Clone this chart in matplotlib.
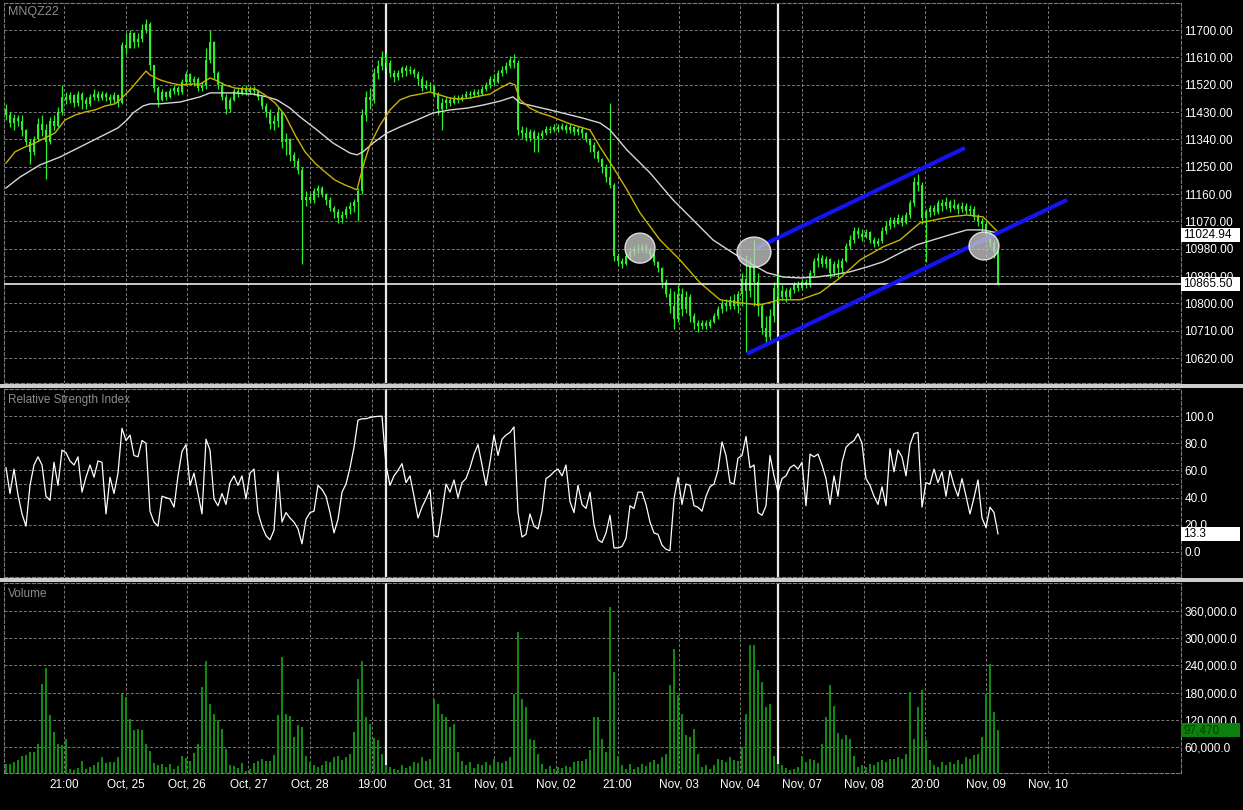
import numpy as np
import matplotlib.pyplot as plt
from matplotlib.patches import Rectangle, Ellipse
from matplotlib.transforms import blended_transform_factory

plt.rcParams['font.family'] = ['Liberation Sans', 'DejaVu Sans']

symbol = 'MNQZ22'
first_open = 11440

closes = [
    11420, 11395, 11410, 11400, 11370, 11330, 11300, 11340, 11390, 11370,
    11330, 11400, 11385, 11430, 11480, 11470, 11485, 11460, 11490, 11470,
    11455, 11480, 11490, 11475, 11490, 11480, 11470, 11485, 11460, 11650,
    11640, 11690, 11660, 11670, 11700, 11720, 11585, 11510, 11470, 11495,
    11480, 11500, 11510, 11495, 11530, 11555, 11530, 11540, 11510, 11520,
    11600, 11660, 11560, 11520, 11480, 11440, 11470, 11500, 11490, 11505,
    11495, 11505, 11500, 11480, 11450, 11430, 11390, 11400, 11430, 11330,
    11340, 11290, 11270, 11240, 11140, 11150, 11140, 11170, 11180, 11160,
    11140, 11115, 11100, 11080, 11090, 11110, 11120, 11135, 11170, 11420,
    11480, 11470, 11560, 11580, 11610, 11590, 11560, 11545, 11560, 11575,
    11565, 11570, 11555, 11540, 11510, 11520, 11515, 11490, 11440, 11460,
    11470, 11460, 11475, 11470, 11480, 11490, 11485, 11495, 11490, 11505,
    11520, 11540, 11530, 11560, 11570, 11580, 11600, 11590, 11370, 11360,
    11345, 11365, 11340, 11350, 11360, 11375, 11370, 11380, 11375, 11385,
    11370, 11380, 11365, 11375, 11360, 11340, 11320, 11300, 11275, 11250,
    11215, 11190, 10955, 10940, 10930, 10955, 10970, 10980, 10975, 10985,
    10975, 10960, 10935, 10915, 10870, 10830, 10790, 10750, 10830, 10780,
    10820, 10760, 10735, 10725, 10735, 10725, 10740, 10760, 10780, 10800,
    10790, 10810, 10790, 10830, 10880, 10840, 10920, 10870, 10790, 10720,
    10690, 10760, 10850, 10820, 10840, 10820, 10845, 10860, 10850, 10870,
    10860, 10900, 10940, 10950, 10930, 10945, 10900, 10930, 10915, 10940,
    10990, 11010, 11040, 11030, 11020, 11035, 11010, 10995, 11005, 11040,
    11055, 11075, 11060, 11080, 11065, 11090, 11130, 11200, 11190, 11080,
    11100, 11115, 11100, 11130, 11120, 11135, 11115, 11125, 11110, 11120,
    11105, 11110, 11085, 11070, 11060, 11030, 11000, 10970, 10865.5,
]

highs = [
    11455, 11430, 11425, 11420, 11420, 11375, 11340, 11350, 11410, 11420,
    11390, 11415, 11420, 11445, 11520, 11495, 11495, 11490, 11500, 11495,
    11480, 11490, 11505, 11500, 11500, 11495, 11490, 11495, 11490, 11660,
    11690, 11700, 11695, 11690, 11720, 11735, 11725, 11580, 11515, 11505,
    11500, 11510, 11520, 11515, 11540, 11565, 11560, 11550, 11545, 11530,
    11640, 11700, 11665, 11565, 11530, 11490, 11480, 11510, 11510, 11515,
    11520, 11515, 11515, 11505, 11485, 11460, 11440, 11420, 11445, 11430,
    11360, 11345, 11300, 11280, 11250, 11170, 11165, 11180, 11190, 11185,
    11165, 11150, 11120, 11110, 11105, 11120, 11135, 11145, 11180, 11440,
    11500, 11510, 11575, 11600, 11630, 11625, 11600, 11570, 11570, 11580,
    11585, 11580, 11575, 11565, 11550, 11535, 11530, 11520, 11495, 11475,
    11480, 11480, 11485, 11485, 11490, 11500, 11500, 11505, 11505, 11515,
    11530, 11550, 11555, 11570, 11580, 11595, 11615, 11620, 11600, 11385,
    11380, 11375, 11370, 11365, 11370, 11385, 11385, 11390, 11390, 11395,
    11390, 11390, 11385, 11385, 11380, 11365, 11345, 11330, 11305, 11280,
    11260, 11460, 11195, 10965, 10950, 10965, 10985, 10990, 10995, 10995,
    10995, 10985, 10965, 10940, 10920, 10880, 10850, 10840, 10860, 10850,
    10840, 10830, 10770, 10745, 10745, 10745, 10750, 10770, 10790, 10810,
    10815, 10825, 10830, 10840, 10900, 10960, 10950, 11010, 10900, 10800,
    10760, 10780, 10870, 10900, 10860, 10850, 10855, 10870, 10875, 10880,
    10880, 10910, 10950, 10965, 10960, 10955, 10950, 10940, 10945, 10950,
    11000, 11025, 11050, 11050, 11045, 11045, 11040, 11020, 11015, 11050,
    11070, 11085, 11085, 11095, 11090, 11100, 11140, 11215, 11225, 11200,
    11110, 11125, 11125, 11140, 11145, 11150, 11140, 11145, 11130, 11135,
    11130, 11125, 11120, 11095, 11080, 11070, 11040, 11010, 10975,
]

lows = [
    11405, 11380, 11370, 11385, 11350, 11320, 11260, 11290, 11335, 11350,
    11210, 11325, 11370, 11380, 11420, 11455, 11460, 11445, 11450, 11440,
    11440, 11450, 11470, 11465, 11470, 11465, 11455, 11460, 11445, 11455,
    11620, 11640, 11640, 11645, 11660, 11690, 11570, 11495, 11445, 11465,
    11470, 11475, 11490, 11485, 11490, 11520, 11520, 11515, 11500, 11500,
    11505, 11590, 11540, 11505, 11470, 11425, 11430, 11465, 11480, 11485,
    11485, 11490, 11485, 11470, 11440, 11415, 11375, 11370, 11380, 11310,
    11290, 11270, 11250, 11225, 10930, 11120, 11130, 11130, 11150, 11150,
    11125, 11105, 11080, 11065, 11065, 11080, 11095, 11100, 11070, 11160,
    11400, 11440, 11460, 11540, 11570, 11575, 11545, 11530, 11535, 11545,
    11550, 11555, 11545, 11520, 11500, 11505, 11500, 11480, 11420, 11370,
    11440, 11450, 11455, 11460, 11465, 11475, 11475, 11480, 11480, 11485,
    11500, 11510, 11520, 11525, 11550, 11560, 11575, 11575, 11355, 11340,
    11335, 11335, 11300, 11300, 11340, 11355, 11360, 11365, 11365, 11370,
    11360, 11360, 11355, 11355, 11345, 11330, 11300, 11280, 11265, 11230,
    11200, 11180, 10940, 10925, 10915, 10925, 10950, 10960, 10965, 10970,
    10965, 10950, 10925, 10905, 10850, 10820, 10770, 10715, 10740, 10760,
    10770, 10740, 10715, 10705, 10715, 10715, 10720, 10735, 10750, 10770,
    10775, 10780, 10780, 10770, 10790, 10640, 10820, 10790, 10760, 10700,
    10670, 10680, 10740, 10800, 10810, 10805, 10815, 10835, 10840, 10845,
    10850, 10855, 10890, 10920, 10920, 10915, 10885, 10890, 10885, 10900,
    10935, 10980, 11000, 11015, 11005, 11015, 11000, 10985, 10990, 11000,
    11030, 11045, 11050, 11060, 11055, 11060, 11080, 11120, 11170, 11060,
    10935, 11085, 11090, 11095, 11105, 11110, 11100, 11110, 11095, 11100,
    11095, 11090, 11075, 11055, 11035, 11015, 10985, 10950, 10860,
]

# volume in thousands of contracts
volume_k = [
    23, 22, 27, 31, 40, 42, 48, 50, 67, 199,
    234, 130, 93, 67, 64, 78, 12, 10, 14, 28,
    12, 16, 20, 26, 38, 25, 27, 26, 38, 176,
    170, 122, 97, 100, 97, 67, 52, 25, 20, 23,
    15, 22, 12, 18, 40, 35, 30, 47, 67, 192,
    249, 154, 133, 119, 100, 55, 20, 18, 14, 25,
    8, 12, 24, 30, 34, 28, 30, 42, 130, 259,
    132, 128, 82, 108, 105, 40, 26, 20, 16, 20,
    30, 27, 38, 40, 31, 38, 44, 93, 210, 250,
    126, 111, 80, 75, 45, 20, 16, 12, 9, 20,
    14, 18, 27, 24, 38, 30, 34, 166, 155, 132,
    126, 104, 111, 50, 30, 20, 27, 14, 22, 20,
    27, 20, 34, 27, 24, 30, 38, 177, 313, 166,
    148, 78, 75, 45, 22, 12, 18, 12, 16, 14,
    18, 16, 27, 30, 30, 34, 53, 127, 127, 78,
    49, 368, 225, 40, 20, 12, 23, 12, 16, 23,
    18, 27, 31, 22, 38, 45, 196, 276, 174, 133,
    86, 83, 100, 45, 16, 20, 12, 20, 34, 31,
    27, 38, 31, 30, 60, 133, 286, 284, 229, 204,
    148, 155, 40, 23, 20, 14, 10, 12, 16, 40,
    27, 34, 31, 25, 66, 126, 196, 150, 90, 78,
    86, 78, 40, 16, 20, 16, 23, 20, 27, 31,
    27, 34, 34, 38, 34, 45, 181, 78, 148, 185,
    75, 31, 20, 16, 27, 20, 27, 23, 31, 23,
    38, 34, 42, 45, 82, 177, 242, 137, 97.47,
]

rsi = [
    62, 43, 61, 42, 28, 19, 49, 64, 70, 64,
    41, 38, 66, 49, 75, 73, 67, 64, 70, 44,
    55, 64, 55, 67, 66, 28, 55, 43, 58, 91,
    82, 86, 71, 70, 82, 80, 30, 22, 19, 41,
    40, 39, 33, 56, 74, 79, 49, 58, 43, 28,
    83, 75, 39, 34, 43, 35, 51, 56, 49, 56,
    39, 58, 61, 29, 19, 12, 9, 16, 59, 22,
    29, 25, 22, 17, 6, 24, 29, 30, 49, 46,
    41, 29, 14, 24, 44, 50, 62, 77, 97, 98,
    98, 99, 99.5, 99.8, 99.9, 64, 49, 56, 60, 65,
    51, 56, 41, 25, 33, 39, 46, 12, 11, 29,
    50, 44, 53, 40, 51, 54, 62, 72, 79, 64,
    49, 66, 86, 71, 83, 86, 88, 92, 29, 11,
    13, 28, 19, 17, 30, 54, 56, 59, 61, 56,
    64, 37, 29, 49, 35, 32, 44, 20, 9, 7,
    14, 27, 3, 3, 4, 10, 34, 32, 44, 44,
    35, 22, 14, 13, 5, 2, 1, 39, 55, 35,
    50, 49, 34, 33, 30, 41, 48, 50, 60, 81,
    71, 51, 50, 69, 71, 85, 62, 64, 29, 27,
    34, 71, 56, 44, 54, 56, 62, 64, 61, 66,
    34, 72, 70, 72, 64, 54, 35, 56, 41, 66,
    77, 80, 82, 87, 80, 54, 49, 41, 35, 48,
    34, 76, 59, 75, 70, 56, 79, 87, 88, 33,
    51, 50, 61, 51, 59, 41, 60, 49, 41, 54,
    41, 28, 40, 53, 25, 18, 33, 29, 13.3,
]

# moving averages, read at bar positions
fast_x = [0, 2.25, 4.75, 7.25, 9.75, 12.25, 14.75, 17.25, 19.75, 22.25,
          24.75, 27.25, 28.5, 31, 33.5, 35, 36, 38.5, 41, 43.5,
          46, 48.5, 51, 52.25, 54.75, 57.25, 59.75, 62.25, 64.75, 67.25,
          69.75, 72.25, 74.75, 77.25, 79.75, 82.25, 84.75, 87.75, 88.5, 89.75,
          91, 93.5, 96, 98.5, 101, 103.5, 106, 108.5, 111, 113.5,
          116, 118.5, 121, 123.5, 126, 127.25, 128.5, 131, 133.5, 136,
          138.5, 141, 143.5, 146, 148.5, 151.75, 155.25, 158.5, 163.5, 168.5,
          173.5, 178.5, 183.5, 188.5, 193.5, 198.5, 203.5, 208.5, 213.5, 219.25,
          223.5, 228.5, 236, 240.25, 244.25, 248]
fast_ma = [11262, 11299, 11315, 11328, 11345, 11361, 11404, 11420, 11430, 11437,
           11450, 11457, 11470, 11503, 11542, 11565, 11552, 11536, 11526, 11519,
           11522, 11522, 11542, 11536, 11519, 11509, 11506, 11506, 11486, 11460,
           11420, 11355, 11299, 11262, 11233, 11206, 11190, 11174, 11213, 11272,
           11322, 11387, 11437, 11470, 11483, 11489, 11496, 11486, 11476, 11473,
           11476, 11483, 11489, 11509, 11526, 11519, 11470, 11443, 11427, 11417,
           11404, 11391, 11381, 11371, 11315, 11249, 11174, 11098, 11009, 10943,
           10868, 10812, 10802, 10795, 10812, 10812, 10835, 10884, 10943, 10986,
           11009, 11065, 11085, 11091, 11085, 11035]

slow_x = [0, 3.5, 8.5, 13.5, 18.5, 23.5, 28, 30.25, 31.75, 34.25,
          36, 38.5, 43.5, 48.5, 51, 56.75, 61.75, 65.25, 67.75, 71,
          73.5, 77.75, 81.75, 86, 87.75, 89.25, 91.75, 95.25, 98.5, 102.75,
          106.75, 111, 115.25, 119.25, 123.5, 126.75, 128.5, 136, 144.25, 148.5,
          151, 155.25, 161, 166.75, 171.75, 176.75, 181.75, 186.75, 190.25, 194.25,
          198.5, 202.75, 206.75, 211, 215.25, 219.25, 223.5, 227.75, 231.75, 236,
          240.25, 244.25, 248]
slow_ma = [11180, 11216, 11256, 11282, 11315, 11348, 11378, 11404, 11427, 11450,
           11457, 11457, 11463, 11480, 11493, 11493, 11489, 11480, 11470, 11443,
           11414, 11371, 11328, 11295, 11289, 11299, 11328, 11361, 11381, 11404,
           11427, 11437, 11443, 11453, 11466, 11480, 11460, 11437, 11410, 11394,
           11371, 11305, 11230, 11141, 11075, 11009, 10966, 10927, 10901, 10887,
           10884, 10887, 10894, 10904, 10920, 10937, 10966, 10993, 11009, 11026,
           11042, 11042, 11032]

tick_pos = [14.5, 29.9, 45.3, 60.6, 76.0, 91.4, 106.8, 122.1, 137.5,
            152.9, 168.3, 183.6, 199.0, 214.4, 229.8, 245.1, 260.5]
tick_labels = ['21:00', 'Oct, 25', 'Oct, 26', 'Oct, 27', 'Oct, 28', '19:00',
               'Oct, 31', 'Nov, 01', 'Nov, 02', '21:00', 'Nov, 03', 'Nov, 04',
               'Nov, 07', 'Nov, 08', '20:00', 'Nov, 09', 'Nov, 10']
price_ticks = [10620, 10710, 10800, 10890, 10980, 11070, 11160, 11250,
               11340, 11430, 11520, 11610, 11700]
rsi_ticks = [0, 20, 40, 60, 80, 100]
vol_ticks = [60000, 120000, 180000, 240000, 300000, 360000]

session_lines = [95, 193]
last_price = 10865.50
ma_last = 11024.94
last_rsi = 13.3
last_volume = 97470

# hand drawn channel and markers
lower_line = ([185.25, 265.25], [10634, 11141])
upper_line = ([187.75, 239.75], [10983, 11312])
circles = [(158.5, 10982, 7.5, 99), (187, 10969, 8.5, 99), (244.5, 10989, 7.5, 92)]

W, H = 1243, 810
fig = plt.figure(figsize=(W / 100, H / 100), dpi=100, facecolor='black')


def panel(top, bottom):
    return fig.add_axes([4 / W, 1 - bottom / H, 1177 / W, (bottom - top) / H])


ax1 = panel(3, 383)
ax2 = panel(389, 577)
ax3 = panel(583, 773)

gcol = '#7a7a7a'
dash = (0, (3, 2))
for ax in (ax1, ax2, ax3):
    ax.set_facecolor('black')
    ax.yaxis.tick_right()
    ax.set_xticks(tick_pos)
    ax.set_xticklabels([])
    ax.tick_params(axis='x', length=0)
    ax.tick_params(axis='y', length=0, pad=2.5, labelcolor='white', labelsize=8.5)
    ax.grid(True, color=gcol, linestyle=dash, linewidth=0.7)
    ax.set_axisbelow(True)
    for s in ax.spines.values():
        s.set_color(gcol)
        s.set_linestyle(dash)
        s.set_linewidth(0.8)
    for x in session_lines:
        ax.axvline(x, color='#e8e8e8', lw=1.6, zorder=1)

# price
lime = '#2cf02c'
idx = np.arange(len(closes))
c = np.array(closes, float)
o = np.concatenate([[first_open], c[:-1]])
ax1.vlines(idx, lows, highs, color=lime, lw=0.9, zorder=3)
ax1.bar(idx, np.maximum(np.abs(c - o), 3), bottom=np.minimum(o, c), width=0.6,
        color=lime, lw=0, zorder=3)
ax1.plot(slow_x, slow_ma, color='#d6d6d6', lw=1.0, zorder=4)
ax1.plot(fast_x, fast_ma, color='#c8b400', lw=1.0, zorder=4)
ax1.axhline(last_price, color='white', lw=1.1, zorder=4)
ax1.plot(*lower_line, color='#1414ee', lw=3, solid_capstyle='butt', zorder=5)
ax1.plot(*upper_line, color='#1414ee', lw=3, solid_capstyle='butt', zorder=5)
for cx, cy, w, h in circles:
    ax1.add_patch(Ellipse((cx, cy), w, h, facecolor='#c8c8c8', edgecolor='white',
                          lw=1, alpha=0.78, zorder=6))
ax1.set_yticks(price_ticks)
ax1.set_yticklabels([f'{v:.2f}' for v in price_ticks])
ax1.set_ylim(10538, 11789)

# rsi
ax2.plot(idx, rsi, color='white', lw=0.9, zorder=3)
ax2.axhline(50, color=gcol, linestyle=dash, linewidth=0.7, zorder=0.5)
ax2.set_yticks(rsi_ticks)
ax2.set_yticklabels([f'{v:.1f}' for v in rsi_ticks])
ax2.set_ylim(-18.4, 119.9)

# volume
volumes = np.array(volume_k) * 1000
ax3.bar(idx, volumes, width=0.55, color='#118a11', lw=0, zorder=3)
ax3.set_yticks(vol_ticks)
ax3.set_yticklabels([f'{v:,.1f}' for v in vol_ticks])
ax3.set_ylim(2600, 421800)
ax3.set_xticklabels(tick_labels, color='white', fontsize=8.5)
ax3.tick_params(axis='x', pad=4)

for ax in (ax1, ax2, ax3):
    ax.set_xlim(-0.5, 293.75)


def value_box(ax, y, half, text, fc, tc):
    tr = blended_transform_factory(fig.transFigure, ax.transData)
    ax.add_patch(Rectangle((1181 / W, y - half), 59 / W, 2 * half, transform=tr,
                           facecolor=fc, edgecolor='none', clip_on=False, zorder=5))
    ax.text(1183 / W, y, text, transform=tr, color=tc, fontsize=8.5,
            va='center', ha='left', zorder=6)


value_box(ax1, ma_last, 23, f'{ma_last:.2f}', 'white', 'black')
value_box(ax1, last_price, 23, f'{last_price:.2f}', 'white', 'black')
value_box(ax2, last_rsi, 5.2, f'{last_rsi:.1f}', 'white', 'black')
value_box(ax3, last_volume, 15500, f'{last_volume:,}', '#0b800b', '#0a3a0a')

fig.text(8 / W, 1 - 12 / H, symbol, color='#8c8c8c', fontsize=9, va='center')
fig.text(8 / W, 1 - 400 / H, 'Relative Strength Index', color='#8c8c8c',
         fontsize=8.5, va='center')
fig.text(8 / W, 1 - 594 / H, 'Volume', color='#8c8c8c', fontsize=8.5, va='center')

for top in (384, 578):
    fig.add_artist(Rectangle((0, 1 - (top + 4) / H), 1, 4 / H, transform=fig.transFigure,
                             facecolor='#cccccc', edgecolor='none', zorder=10))

fig.savefig('out.png', dpi=100, facecolor='black')
